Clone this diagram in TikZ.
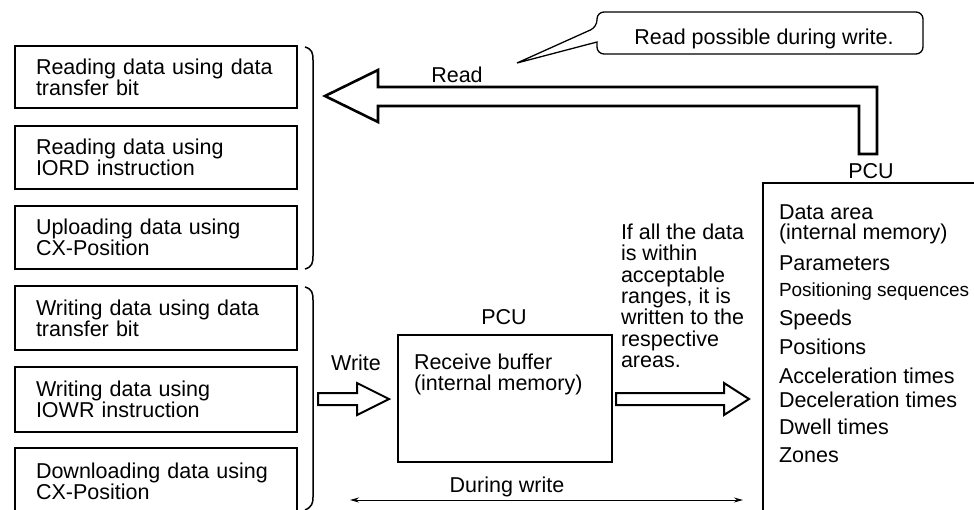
\documentclass[tikz,border=0pt]{standalone}
\usepackage{fontspec}
\setmainfont{Liberation Sans}
\usetikzlibrary{arrows.meta}
\begin{document}
\begin{tikzpicture}[x=1pt,y=-1pt,
  every node/.style={inner sep=0pt, outer sep=0pt, font=\fontsize{21.5}{21.3}\selectfont},
  lbox/.style={draw, line width=1.8pt, text width=240pt, inner xsep=21pt, align=left},
  lbl/.style={anchor=base},
  item/.style={anchor=base west},
  small/.style={font=\fontsize{19}{19}\selectfont},
  bigarrow/.style={draw, line width=2pt, line join=miter},
  readarrow/.style={draw, line width=2.6pt, line join=miter},
  bracket/.style={draw, line width=1.5pt},
  thinline/.style={draw, line width=1.3pt}]
\useasboundingbox (0,0) rectangle (974,509);

% left boxes
\node[lbox, minimum height=62pt] (b1) at (156,77) {Reading data using data\\transfer bit};
\node[lbox, minimum height=63pt] (b2) at (156,157.5) {Reading data using\\IORD instruction};
\node[lbox, minimum height=63pt] (b3) at (156,237.5) {Uploading data using\\CX-Position};
\node[lbox, minimum height=64pt] (b4) at (156,318) {Writing data using data\\transfer bit};
\node[lbox, minimum height=65pt] (b5) at (156,399.5) {Writing data using\\IOWR instruction};
\node[lbox, minimum height=66pt] (b6) at (156,481) {Downloading data using\\CX-Position};

% brackets
\path[bracket] (305,47) .. controls (312,49) and (313,53) .. (313,60) -- (313,256)
  .. controls (313,263) and (312,267) .. (305,269);
\path[bracket] (305,287) .. controls (312,289) and (313,293) .. (313,300) -- (313,497)
  .. controls (313,503) and (312,507) .. (305,510);

% read arrow
\path[readarrow] (325,96) -- (378,70) -- (378,87) -- (877,87) -- (877,154) -- (859,154)
  -- (859,106) -- (378,106) -- (378,122) -- cycle;
\node[lbl] (readlbl) at (457,82) {Read};

% callout
\path[thinline] (517,63) -- (597,42) [rounded corners=7pt] -- (597,54) -- (923,54) -- (923,12)
  -- (597,12) -- (597,27) [sharp corners] -- cycle;
\node[lbl] (calltxt) at (764,44) {Read possible during write.};

% right PCU
\node[lbl] (pcuR) at (871,178) {PCU};
\coordinate (rb) at (763,183);
\path[draw, line width=1.6pt] (974,183) -- (rb) -- (763,510);
\node[item] (d1) at (779,219) {Data area};
\node[item] (d2) at (779,239) {(internal memory)};
\node[item] (d3) at (779,270) {Parameters};
\node[item, small] (d4) at (779,296) {Positioning sequences};
\node[item] (d5) at (779,325) {Speeds};
\node[item] (d6) at (779,354) {Positions};
\node[item] (d7) at (779,383) {Acceleration times};
\node[item] (d8) at (779,407) {Deceleration times};
\node[item] (d9) at (779,434) {Dwell times};
\node[item] (d10) at (779,462) {Zones};

% buffer
\node[draw, line width=1.8pt, minimum width=214pt, minimum height=127pt] (buf) at (505,398.5) {};
\node[lbl] (pcuB) at (504,324) {PCU};
\node[anchor=north west, align=left] (buftxt) at (414,354) {Receive buffer\\(internal memory)};

% write arrow
\node[lbl] (writelbl) at (356,370) {Write};
\path[bigarrow] (318,393) -- (357,393) -- (357,383) -- (389,399) -- (357,415) -- (357,405)
  -- (318,405) -- cycle;

% to data area arrow
\path[bigarrow] (616,393) -- (724,393) -- (724,383) -- (749,399) -- (724,415) -- (724,405)
  -- (616,405) -- cycle;
\node[anchor=north west, align=left] (cond) at (621,224)
  {If all the data\\is within\\acceptable\\ranges, it is\\written to the\\respective\\areas.};

% during write
\coordinate (dw1) at (350,500);
\coordinate (dw2) at (743,500);
\draw[line width=1pt, {Stealth[length=9pt,width=5pt]}-{Stealth[length=9pt,width=5pt]}] (dw1) -- (dw2);
\node[lbl] (dwlbl) at (507,492) {During write};
\end{tikzpicture}
\end{document}
